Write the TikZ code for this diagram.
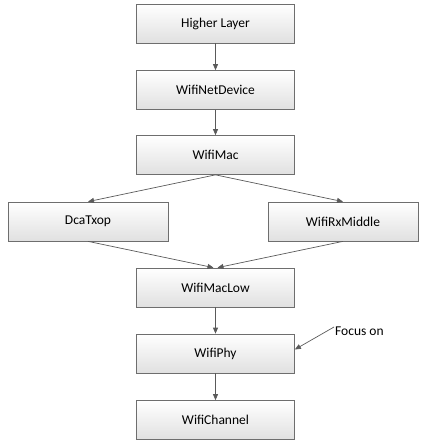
\documentclass[tikz,border=0pt]{standalone}
\usepackage{fontspec}
\setmainfont{Carlito}
\usetikzlibrary{arrows.meta}
\definecolor{boxline}{RGB}{110,110,110}
\definecolor{arrowc}{RGB}{90,90,90}
\tikzset{
  lbl/.style={font=\fontsize{13.5}{15}\selectfont},
  blk/.style={draw=boxline, line width=0.7pt, top color=white, bottom color=black!12,
    minimum width=158pt, minimum height=39pt, inner sep=0pt, lbl, anchor=center},
  conn/.style={draw=arrowc, line width=0.7pt, -{Triangle[length=6pt,width=5pt]}},
}
\begin{document}
\begin{tikzpicture}[x=1pt,y=-1pt]
\useasboundingbox (0,0) rectangle (420,441);
\node[blk] (hl) at (215.5,23.5) {Higher Layer};
\node[blk] (nd) at (215.5,90) {WifiNetDevice};
\node[blk] (mac) at (215.5,155) {WifiMac};
\node[blk, minimum width=160pt] (dca) at (88,221.5) {DcaTxop};
\node[blk, minimum width=150pt] (rx) at (343,221.5) {WifiRxMiddle};
\node[blk] (low) at (215.5,287.5) {WifiMacLow};
\node[blk] (phy) at (215.5,353.5) {WifiPhy};
\node[blk] (ch) at (215.5,420) {WifiChannel};
\node[lbl, anchor=west, inner sep=0pt] (focus) at (335,331) {Focus on};
\draw[conn] (hl) -- (nd);
\draw[conn] (nd) -- (mac);
\draw[conn] (mac.south) -- (dca.north);
\draw[conn] (mac.south) -- (rx.north);
\draw[conn] (dca.south) -- ([xshift=-2pt]low.north);
\draw[conn] (rx.south) -- ([xshift=2pt]low.north);
\draw[conn] (low) -- (phy);
\draw[conn] (phy) -- (ch);
\draw[conn] ([xshift=-1pt,yshift=4pt]focus.west) -- ([yshift=4pt]phy.east);
\end{tikzpicture}
\end{document}
